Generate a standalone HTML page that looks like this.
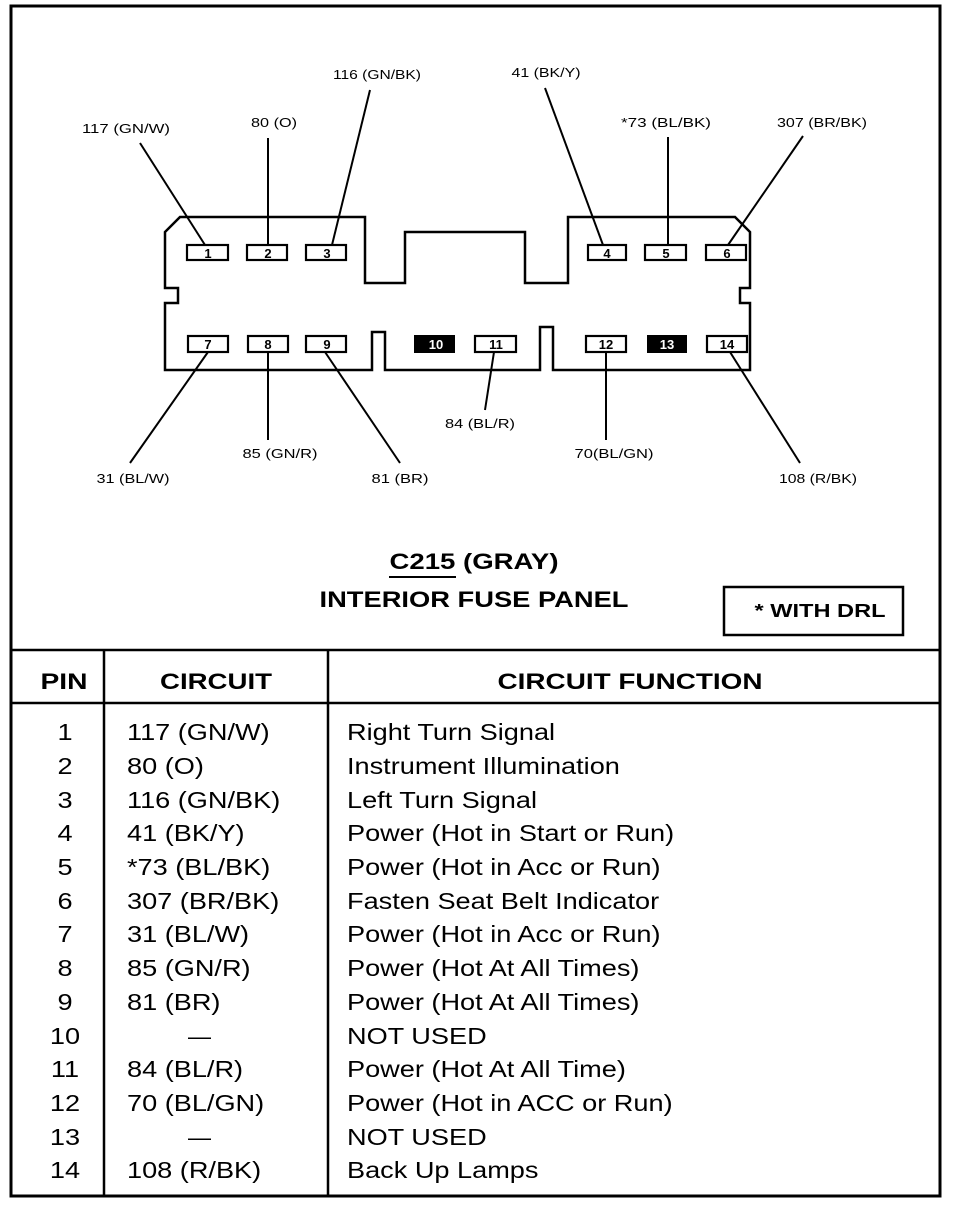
<!DOCTYPE html>
<html><head><style>body{margin:0;background:#fff}svg{display:block}</style></head><body>
<svg width="960" height="1206" viewBox="0 0 960 1206" xmlns="http://www.w3.org/2000/svg" font-family="Liberation Sans, Arial, sans-serif">
<g fill="none" stroke="#000">
<path d="M11,6 H940 V1196 H11 Z" stroke-width="3"/>
<path d="M11,650 H940 M11,703 H940 M104,650 V1196 M328,650 V1196" stroke-width="2.5"/>
<path d="M180,217 H365 V283 H405 V232 H525 V283 H568 V217 H735 L750,232 V288 H740 V303 H750 V370 H553 V327 H540 V370 H385 V332 H372 V370 H165 V303 H178 V288 H165 V232 Z" stroke-width="2.5"/>
<g stroke-width="2.2">
<rect x="187" y="245" width="41" height="15"/><rect x="247" y="245" width="40" height="15"/><rect x="306" y="245" width="40" height="15"/>
<rect x="588" y="245" width="38" height="15"/><rect x="645" y="245" width="41" height="15"/><rect x="706" y="245" width="40" height="15"/>
<rect x="188" y="336" width="40" height="16"/><rect x="248" y="336" width="40" height="16"/><rect x="306" y="336" width="40" height="16"/>
<rect x="475" y="336" width="41" height="16"/><rect x="586" y="336" width="40" height="16"/><rect x="707" y="336" width="40" height="16"/>
</g>
<g stroke-width="2">
<line x1="140" y1="143" x2="205" y2="245"/><line x1="268" y1="138" x2="268" y2="245"/><line x1="370" y1="90" x2="332" y2="245"/>
<line x1="545" y1="88" x2="603" y2="245"/><line x1="668" y1="137" x2="668" y2="245"/><line x1="803" y1="136" x2="728" y2="245"/>
<line x1="208" y1="352" x2="130" y2="463"/><line x1="268" y1="352" x2="268" y2="440"/><line x1="325" y1="352" x2="400" y2="463"/>
<line x1="494" y1="352" x2="485" y2="410"/><line x1="606" y1="352" x2="606" y2="440"/><line x1="730" y1="352" x2="800" y2="463"/>
</g>
<rect x="724" y="587" width="179" height="48" stroke-width="2.5"/>
</g>
<rect x="414" y="335" width="41" height="18" fill="#000"/><rect x="647" y="335" width="40" height="18" fill="#000"/>
<g font-size="13" font-weight="bold" text-anchor="middle">
<text x="208" y="258">1</text><text x="268" y="258">2</text><text x="327" y="258">3</text>
<text x="607" y="258">4</text><text x="666" y="258">5</text><text x="727" y="258">6</text>
<text x="208" y="349">7</text><text x="268" y="349">8</text><text x="327" y="349">9</text>
<text x="436" y="349" fill="#fff">10</text><text x="496" y="349">11</text><text x="606" y="349">12</text>
<text x="667" y="349" fill="#fff">13</text><text x="727" y="349">14</text>
</g>
<g font-size="13" text-anchor="middle" lengthAdjust="spacingAndGlyphs">
<text x="126" y="133" textLength="88" lengthAdjust="spacingAndGlyphs">117 (GN/W)</text>
<text x="274" y="127" textLength="46" lengthAdjust="spacingAndGlyphs">80 (O)</text>
<text x="377" y="79" textLength="88" lengthAdjust="spacingAndGlyphs">116 (GN/BK)</text>
<text x="546" y="77" textLength="69" lengthAdjust="spacingAndGlyphs">41 (BK/Y)</text>
<text x="666" y="127" textLength="90" lengthAdjust="spacingAndGlyphs">*73 (BL/BK)</text>
<text x="822" y="127" textLength="90" lengthAdjust="spacingAndGlyphs">307 (BR/BK)</text>
<text x="133" y="483" textLength="73" lengthAdjust="spacingAndGlyphs">31 (BL/W)</text>
<text x="280" y="458" textLength="75" lengthAdjust="spacingAndGlyphs">85 (GN/R)</text>
<text x="400" y="483" textLength="57" lengthAdjust="spacingAndGlyphs">81 (BR)</text>
<text x="480" y="428" textLength="70" lengthAdjust="spacingAndGlyphs">84 (BL/R)</text>
<text x="614" y="458" textLength="79" lengthAdjust="spacingAndGlyphs">70(BL/GN)</text>
<text x="818" y="483" textLength="78" lengthAdjust="spacingAndGlyphs">108 (R/BK)</text>
</g>
<g font-size="22" font-weight="bold" text-anchor="middle">
<text x="474" y="569" textLength="169" lengthAdjust="spacingAndGlyphs">C215 (GRAY)</text>
<text x="474" y="607" textLength="309" lengthAdjust="spacingAndGlyphs">INTERIOR FUSE PANEL</text>
<text x="64" y="689" textLength="47" lengthAdjust="spacingAndGlyphs">PIN</text>
<text x="216" y="689" textLength="112" lengthAdjust="spacingAndGlyphs">CIRCUIT</text>
<text x="630" y="689" textLength="265" lengthAdjust="spacingAndGlyphs">CIRCUIT FUNCTION</text>
</g>
<line x1="389" y1="577" x2="456" y2="577" stroke="#000" stroke-width="2"/>
<text x="820" y="617" font-size="18" font-weight="bold" text-anchor="middle" textLength="131" lengthAdjust="spacingAndGlyphs">* WITH DRL</text>
<g font-size="23">
<g transform="translate(65,0) scale(1.18,1)" text-anchor="middle">
<text x="0" y="740">1</text><text x="0" y="774">2</text><text x="0" y="808">3</text><text x="0" y="841">4</text><text x="0" y="875">5</text><text x="0" y="909">6</text><text x="0" y="942">7</text><text x="0" y="976">8</text><text x="0" y="1010">9</text><text x="0" y="1044">10</text><text x="0" y="1077">11</text><text x="0" y="1111">12</text><text x="0" y="1145">13</text><text x="0" y="1178">14</text>
</g>
<g transform="translate(127,0) scale(1.18,1)">
<text x="0" y="740">117 (GN/W)</text><text x="0" y="774">80 (O)</text><text x="0" y="808">116 (GN/BK)</text><text x="0" y="841">41 (BK/Y)</text><text x="0" y="875">*73 (BL/BK)</text><text x="0" y="909">307 (BR/BK)</text><text x="0" y="942">31 (BL/W)</text><text x="0" y="976">85 (GN/R)</text><text x="0" y="1010">81 (BR)</text><text x="0" y="1077">84 (BL/R)</text><text x="0" y="1111">70 (BL/GN)</text><text x="0" y="1178">108 (R/BK)</text>
</g>
<text x="188" y="1044">—</text><text x="188" y="1145">—</text>
<g transform="translate(347,0) scale(1.18,1)">
<text x="0" y="740">Right Turn Signal</text><text x="0" y="774">Instrument Illumination</text><text x="0" y="808">Left Turn Signal</text><text x="0" y="841">Power (Hot in Start or Run)</text><text x="0" y="875">Power (Hot in Acc or Run)</text><text x="0" y="909">Fasten Seat Belt Indicator</text><text x="0" y="942">Power (Hot in Acc or Run)</text><text x="0" y="976">Power (Hot At All Times)</text><text x="0" y="1010">Power (Hot At All Times)</text><text x="0" y="1044">NOT USED</text><text x="0" y="1077">Power (Hot At All Time)</text><text x="0" y="1111">Power (Hot in ACC or Run)</text><text x="0" y="1145">NOT USED</text><text x="0" y="1178">Back Up Lamps</text>
</g>
</g>
</svg>
</body></html>
